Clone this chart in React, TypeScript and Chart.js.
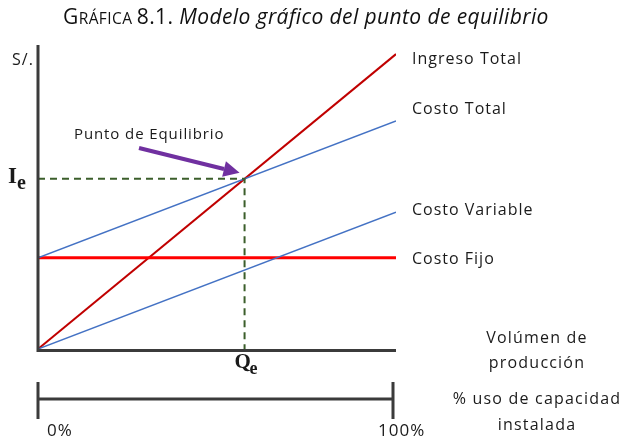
import React, { useEffect, useRef } from "react";
import { Chart, registerables } from "chart.js";

Chart.register(...registerables);

// Data (x = % of installed capacity, y = S/.)
const xRange = [0, 100];
const ingresoTotal = [0, 97];
const costoFijo = [30, 30];
const costoVariable = [0, 45];
const costoTotal = [30, 75];
const seriesNames = ["Ingreso Total", "Costo Total", "Costo Variable", "Costo Fijo"];
const capacityTicks = ["0%", "100%"];
const qe = 57.7;
const ie = 56;

const SANS = "'Open Sans', 'Noto Sans', sans-serif";
const SERIF = "'Liberation Serif', 'DejaVu Serif', serif";

const overlay = {
  id: "overlay",
  afterDatasetsDraw(chart: any) {
    const ctx = chart.ctx as any;
    const xs = chart.scales.x;
    const ys = chart.scales.y;
    const x0 = xs.getPixelForValue(xRange[0]);
    const x1 = xs.getPixelForValue(xRange[1]);
    const y0 = ys.getPixelForValue(0);
    const yTop = ys.getPixelForValue(100);
    ctx.save();
    // axes
    ctx.strokeStyle = "#3b3b3b";
    ctx.lineWidth = 3;
    ctx.lineCap = "butt";
    ctx.beginPath();
    ctx.moveTo(x0, yTop);
    ctx.lineTo(x0, y0 + 1.5);
    ctx.lineTo(x1, y0 + 1.5);
    ctx.stroke();
    // second axis (capacity)
    const yb = 399;
    ctx.beginPath();
    ctx.moveTo(x0, yb);
    ctx.lineTo(x1 - 3, yb);
    ctx.moveTo(x0, 382);
    ctx.lineTo(x0, 419);
    ctx.moveTo(x1 - 3, 382);
    ctx.lineTo(x1 - 3, 419);
    ctx.stroke();

    // purple arrow to breakeven point
    const px = xs.getPixelForValue(qe);
    const py = ys.getPixelForValue(ie);
    const sx = 139, sy = 148;
    const ex = px - 5, ey = py - 6;
    const ang = Math.atan2(ey - sy, ex - sx);
    const headLen = 16, headW = 8;
    const bx = ex - headLen * Math.cos(ang);
    const by = ey - headLen * Math.sin(ang);
    ctx.strokeStyle = "#7030A0";
    ctx.fillStyle = "#7030A0";
    ctx.lineWidth = 4;
    ctx.beginPath();
    ctx.moveTo(sx, sy);
    ctx.lineTo(bx, by);
    ctx.stroke();
    ctx.beginPath();
    ctx.moveTo(ex, ey);
    ctx.lineTo(bx + headW * Math.sin(ang), by - headW * Math.cos(ang));
    ctx.lineTo(bx - headW * Math.sin(ang), by + headW * Math.cos(ang));
    ctx.closePath();
    ctx.fill();

    // texts
    ctx.fillStyle = "#1a1a1a";
    ctx.textBaseline = "middle";
    ctx.textAlign = "left";
    ctx.letterSpacing = "1px";
    ctx.font = `16px ${SANS}`;
    const labelYs = [59, 109, 210, 259];
    seriesNames.forEach((n, i) => ctx.fillText(n, 412, labelYs[i]));
    ctx.letterSpacing = "0.9px";
    ctx.font = `15px ${SANS}`;
    ctx.fillText("Punto de Equilibrio", 74, 135);
    ctx.letterSpacing = "1px";
    ctx.font = `16px ${SANS}`;
    ctx.fillText("S/.", 12, 60);

    ctx.textAlign = "center";
    ctx.letterSpacing = "1.2px";
    ctx.font = `16px ${SANS}`;
    ctx.fillText("Volúmen de", 537, 338);
    ctx.fillText("producción", 537, 363);
    ctx.fillText("% uso de capacidad", 537, 399);
    ctx.fillText("instalada", 537, 425);
    ctx.textAlign = "left";
    ctx.letterSpacing = "1px";
    ctx.font = `17px ${SANS}`;
    ctx.fillText(capacityTicks[0], 47, 431);
    ctx.fillText(capacityTicks[1], 378, 431);

    // Ie and Qe
    ctx.letterSpacing = "0px";
    ctx.textBaseline = "alphabetic";
    ctx.font = `bold 23px ${SERIF}`;
    ctx.fillText("I", 8, py + 4);
    ctx.font = `bold 20px ${SERIF}`;
    ctx.fillText("e", 17, py + 10);
    ctx.font = `bold 21px ${SERIF}`;
    ctx.fillText("Q", px - 10, 368);
    ctx.font = `bold 18px ${SERIF}`;
    ctx.fillText("e", px + 5, 374);

    // title
    let tx = 63;
    const ty = 24;
    ctx.fillStyle = "#111";
    ctx.letterSpacing = "0.4px";
    ctx.font = `21px ${SANS}`;
    ctx.fillText("G", tx, ty);
    tx += ctx.measureText("G").width;
    ctx.font = `15.5px ${SANS}`;
    ctx.fillText("RÁFICA", tx, ty);
    tx += ctx.measureText("RÁFICA ").width;
    ctx.font = `21px ${SANS}`;
    ctx.fillText("8.1.", tx, ty);
    tx += ctx.measureText("8.1. ").width;
    ctx.font = `italic 21px ${SANS}`;
    ctx.fillText("Modelo gráfico del punto de equilibrio", tx, ty);
    ctx.restore();
  },
};

export default function App() {
  const ref = useRef<HTMLCanvasElement>(null);
  useEffect(() => {
    if (!ref.current) return;
    const pts = (ys: number[]) => xRange.map((x, i) => ({ x, y: ys[i] }));
    const chart = new Chart(ref.current, {
      type: "line",
      data: {
        datasets: [
          {
            label: "eq",
            data: [
              { x: 0, y: ie },
              { x: qe, y: ie },
              { x: qe, y: 0 },
            ],
            borderColor: "#3B5E2B",
            borderWidth: 2,
            borderDash: [7, 5],
            pointRadius: 0,
          },
          { label: seriesNames[1], data: pts(costoTotal), borderColor: "#4472C4", borderWidth: 1.5, pointRadius: 0 },
          { label: seriesNames[2], data: pts(costoVariable), borderColor: "#4472C4", borderWidth: 1.5, pointRadius: 0 },
          { label: seriesNames[3], data: pts(costoFijo), borderColor: "#FF0000", borderWidth: 3, pointRadius: 0 },
          { label: seriesNames[0], data: pts(ingresoTotal), borderColor: "#C00000", borderWidth: 2, pointRadius: 0 },
        ],
      },
      options: {
        animation: false,
        responsive: false,
        devicePixelRatio: 1,
        layout: { padding: { left: 38, right: 230, top: 45, bottom: 91 } },
        plugins: { legend: { display: false }, tooltip: { enabled: false }, title: { display: false } },
        scales: {
          x: { type: "linear", min: 0, max: 100, display: false },
          y: { type: "linear", min: 0, max: 100, display: false },
        },
      },
      plugins: [overlay],
    });
    return () => chart.destroy();
  }, []);
  return (
    <div style={{ position: "fixed", left: 0, top: 0, width: 626, height: 440, background: "#fff" }}>
      <canvas ref={ref} width={626} height={440} />
    </div>
  );
}
